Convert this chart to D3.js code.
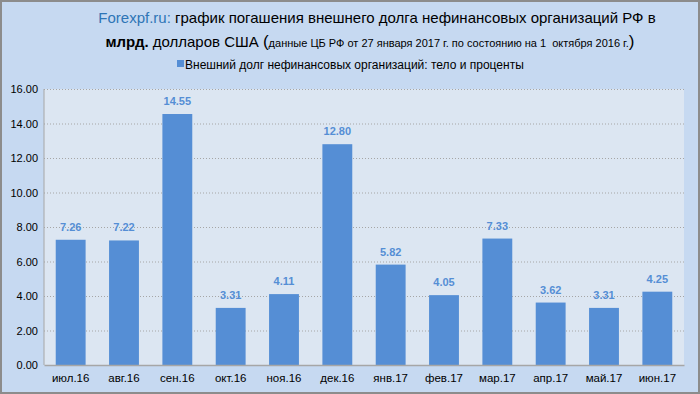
<!DOCTYPE html>
<html><head><meta charset="utf-8">
<script src="https://cdn.jsdelivr.net/npm/d3@7"></script>
<style>body{margin:0;background:#fff}svg{display:block;font-family:"Liberation Sans",Arial,sans-serif}</style>
</head><body>
<script>
const categories=["июл.16","авг.16","сен.16","окт.16","ноя.16","дек.16","янв.17","фев.17","мар.17","апр.17","май.17","июн.17"];
const values=[7.26,7.22,14.55,3.31,4.11,12.80,5.82,4.05,7.33,3.62,3.31,4.25];
const yTicks=[0,2,4,6,8,10,12,14,16];
const seriesName="Внешний долг нефинансовых организаций: тело и проценты";

const W=700,H=394;
const svg=d3.select("body").append("svg").attr("width",W).attr("height",H);
svg.append("rect").attr("x",1).attr("y",1).attr("width",W-2).attr("height",H-2).attr("fill","#c6d9f1").attr("stroke","#8c8c8c").attr("stroke-width",2);

const m={l:44,r:684,t:89,b:365};
const x=d3.scaleBand().domain(categories).range([m.l,m.r]).paddingInner(0.44).paddingOuter(0.22);
const y=d3.scaleLinear().domain([0,16]).range([m.b,m.t]);

svg.append("rect").attr("x",m.l).attr("y",m.t).attr("width",m.r-m.l).attr("height",m.b-m.t).attr("fill","#dce6f2");

// grid
svg.append("g").selectAll("line").data(yTicks.filter(d=>d>0)).join("line")
 .attr("x1",m.l).attr("x2",m.r).attr("y1",d=>y(d)+0.5).attr("y2",d=>y(d)+0.5)
 .attr("stroke","#a6a6a6").attr("stroke-dasharray","1,2");

// bars
svg.append("g").selectAll("rect").data(values).join("rect")
 .attr("x",(d,i)=>x(categories[i])).attr("width",x.bandwidth())
 .attr("y",d=>y(d)).attr("height",d=>y(0)-y(d)).attr("fill","#558ed5");

svg.append("g").selectAll("text").data(values).join("text")
 .attr("x",(d,i)=>x(categories[i])+x.bandwidth()/2).attr("y",d=>y(d)-9)
 .attr("text-anchor","middle").attr("font-size",11).attr("font-weight","bold").attr("fill","#558ed5")
 .text(d=>d.toFixed(2));

// axes
const ya=d3.axisLeft(y).tickValues(yTicks).tickFormat(d3.format(".2f")).tickSize(0).tickPadding(6);
const gy=svg.append("g").attr("transform",`translate(${m.l},0)`).call(ya);
gy.select(".domain").attr("stroke","#a6a6a6");
gy.selectAll("text").attr("font-size",11).attr("fill","#000").attr("font-family","Liberation Sans, Arial, sans-serif");

const xa=d3.axisBottom(x).tickSize(0).tickPadding(9);
const gx=svg.append("g").attr("transform",`translate(0,${m.b})`).call(xa);
gx.select(".domain").attr("stroke","#a6a6a6").attr("stroke-width",1.5);
gx.selectAll("text").attr("font-size",11.5).attr("fill","#000").attr("font-family","Liberation Sans, Arial, sans-serif");
gy.select(".domain").attr("d",`M0,${m.t}V${m.b}`);

// title
const t1=svg.append("text").attr("x",W/2+27).attr("y",23).attr("text-anchor","middle").attr("font-size",15);
t1.append("tspan").attr("fill","#2e75b6").text("Forexpf.ru:");
t1.append("tspan").attr("fill","#000").text(" график погашения внешнего долга нефинансовых организаций РФ в");
const t2=svg.append("text").attr("x",W/2+20).attr("y",47).attr("text-anchor","middle").attr("font-size",15).attr("fill","#000").style("white-space","pre");
t2.append("tspan").attr("font-weight","bold").text("млрд.");
t2.append("tspan").text(" долларов США ");
t2.append("tspan").attr("font-size",17).text("(");
t2.append("tspan").attr("font-size",11).text("данные ЦБ РФ от 27 января 2017 г. по состоянию на 1  октября 2016 г.");
t2.append("tspan").attr("font-size",17).text(")");

// legend
const lg=svg.append("g");
lg.append("text").attr("x",185).attr("y",69).attr("font-size",12).attr("fill","#000").text(seriesName);
lg.append("rect").attr("x",177).attr("y",60).attr("width",7).attr("height",7).attr("fill","#558ed5");
</script>
</body></html>
